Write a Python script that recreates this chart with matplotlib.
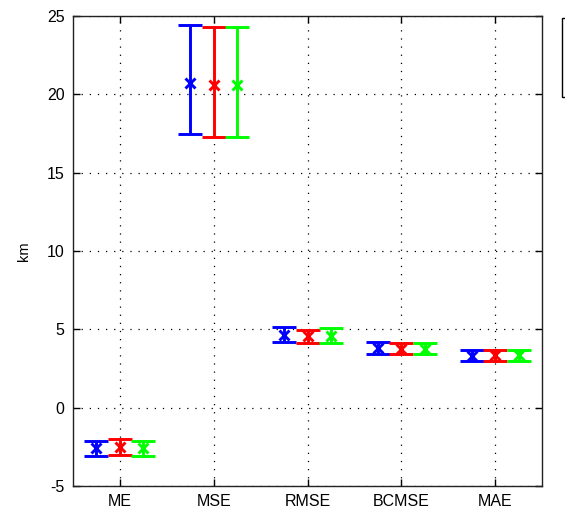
import matplotlib
matplotlib.use("Agg")
import matplotlib.pyplot as plt
from matplotlib.patches import Rectangle
import numpy as np

categories = ["ME", "MSE", "RMSE", "BCMSE", "MAE"]
series_names = ["A", "B", "C"]
series_colors = ["#0000ff", "#ff0000", "#00ff00"]

mean_blue = [-2.57, 20.75, 4.67, 3.80, 3.30]
lo_blue = [-3.06, 17.45, 4.21, 3.42, 2.95]
hi_blue = [-2.10, 24.45, 5.13, 4.21, 3.65]

mean_red = [-2.52, 20.60, 4.55, 3.77, 3.33]
lo_red = [-3.00, 17.30, 4.15, 3.40, 2.97]
hi_red = [-2.03, 24.28, 4.96, 4.15, 3.70]

mean_green = [-2.57, 20.60, 4.60, 3.77, 3.33]
lo_green = [-3.06, 17.30, 4.10, 3.40, 2.96]
hi_green = [-2.10, 24.28, 5.10, 4.15, 3.70]

yticks = [-5, 0, 5, 10, 15, 20, 25]

plt.rcParams['font.family'] = ['Liberation Sans', 'DejaVu Sans']
plt.rcParams['axes.unicode_minus'] = False

fig = plt.figure(figsize=(5.65, 5.08), dpi=100)
ax = fig.add_axes([73/565, 22/508, (542-73)/565, (486-16)/508])

x = np.arange(1, len(categories) + 1)
offsets = [-0.25, 0.0, 0.25]
data = [(mean_blue, lo_blue, hi_blue), (mean_red, lo_red, hi_red), (mean_green, lo_green, hi_green)]
for (m, lo, hi), off, col in zip(data, offsets, series_colors):
    m = np.array(m); lo = np.array(lo); hi = np.array(hi)
    ax.errorbar(x + off, m, yerr=[m - lo, hi - m], fmt='x', color=col,
                ecolor=col, elinewidth=2.1, capsize=8.3, capthick=2.1,
                markersize=7, markeredgewidth=2.1, zorder=3)

ax.set_xlim(0.5, 5.5)
ax.set_ylim(-5, 25)
ax.set_xticks(x)
ax.set_xticklabels(categories)
ax.set_yticks(yticks)
ax.tick_params(direction='in', length=5, width=1, labelsize=11.5, colors='black',
               top=True, right=True, pad=6)
ax.grid(True, linestyle=(0, (1, 5.5)), color='black', linewidth=0.9)
for s in ax.spines.values():
    s.set_linewidth(1)
    s.set_color('#222222')
ax.set_ylabel("km", fontsize=10.5)
ax.yaxis.set_label_coords(-0.09, 0.5)

fig.patches.append(Rectangle((562/565, (508-97)/508), 0.2, 79/508,
                             transform=fig.transFigure, facecolor='white',
                             edgecolor='black', linewidth=1))

fig.savefig("out.png", dpi=100)
